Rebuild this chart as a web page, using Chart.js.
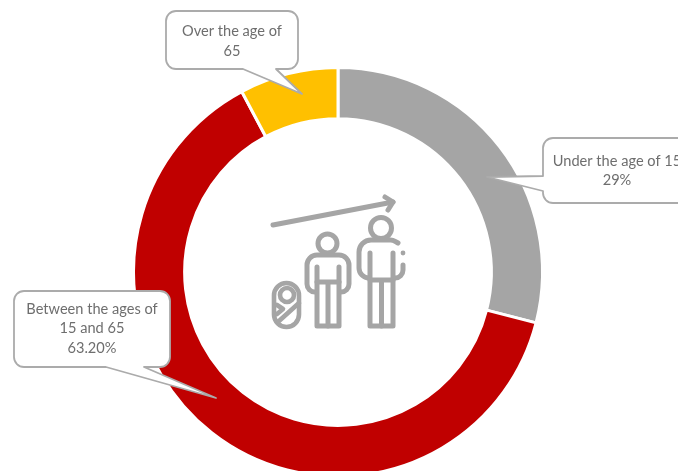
<!DOCTYPE html>
<html>
<head>
<meta charset="utf-8">
<script src="https://cdn.jsdelivr.net/npm/chart.js@4/dist/chart.umd.min.js"></script>
<style>
  html, body { margin: 0; padding: 0; background: #fff; overflow: hidden; width: 678px; height: 471px; }
  #wrap { position: relative; width: 678px; height: 480px; }
</style>
</head>
<body>
<div id="wrap"><canvas id="chart" width="678" height="480"></canvas></div>
<script>
// Population share by age group
const categories = ['Under the age of 15', 'Between the ages of 15 and 65', 'Over the age of 65'];
const shares = [29, 63.2, 7.8];
const sliceColors = ['#A5A5A5', '#C00000', '#FFC000'];

const underLines = ['Under the age of 15', '29%'];
const middleLines = ['Between the ages of', '15 and 65', '63.20%'];
const overLines = ['Over the age of', '65'];

const FONT = '14.6px "Lato", "Open Sans", sans-serif';
const TEXT = '#6E6E6E';
const OUTLINE = '#ABABAB';
const ICON = '#A5A5A5';

// Speech-bubble callouts: box, pointer base along one edge, pointer tip, text anchor
const callouts = [
  { lines: underLines, box: [543, 138, 158, 65], base: [[543, 176], [543, 191]], tip: [487, 177], textX: 617, textY: 161, lineH: 19 },
  { lines: middleLines, box: [14, 291, 156, 76], base: [[106, 367], [144, 367]], tip: [216, 398], textX: 92, textY: 309, lineH: 19.5 },
  { lines: overLines, box: [166, 11, 132, 58], base: [[243, 69], [276, 69]], tip: [302, 94], textX: 232, textY: 31, lineH: 20 }
];

function bubblePath(ctx, c) {
  const [x, y, w, h] = c.box;
  const r = 10;
  const [b0, b1] = c.base;
  ctx.beginPath();
  ctx.moveTo(x + r, y);
  ctx.lineTo(x + w - r, y);
  ctx.arcTo(x + w, y, x + w, y + r, r);
  ctx.lineTo(x + w, y + h - r);
  ctx.arcTo(x + w, y + h, x + w - r, y + h, r);
  if (b0[1] === y + h) {
    ctx.lineTo(b1[0], b1[1]);
    ctx.lineTo(c.tip[0], c.tip[1]);
    ctx.lineTo(b0[0], b0[1]);
  }
  ctx.lineTo(x + r, y + h);
  ctx.arcTo(x, y + h, x, y + h - r, r);
  if (b0[0] === x) {
    ctx.lineTo(b1[0], b1[1]);
    ctx.lineTo(c.tip[0], c.tip[1]);
    ctx.lineTo(b0[0], b0[1]);
  }
  ctx.lineTo(x, y + r);
  ctx.arcTo(x, y, x + r, y, r);
  ctx.closePath();
}

const calloutPlugin = {
  id: 'callouts',
  afterDatasetsDraw(chart) {
    const ctx = chart.ctx;
    ctx.save();
    callouts.forEach(c => {
      bubblePath(ctx, c);
      ctx.fillStyle = '#fff';
      ctx.fill();
      ctx.strokeStyle = OUTLINE;
      ctx.lineWidth = 1.8;
      ctx.lineJoin = 'round';
      ctx.stroke();
      ctx.fillStyle = TEXT;
      ctx.font = FONT;
      ctx.textAlign = 'center';
      ctx.textBaseline = 'middle';
      c.lines.forEach((t, i) => ctx.fillText(t, c.textX, c.textY + i * c.lineH));
    });
    ctx.restore();
  }
};

// Growth pictogram in the doughnut hole: arrow, swaddled baby, child, adult
const iconPlugin = {
  id: 'growthIcon',
  afterDatasetsDraw(chart) {
    const ctx = chart.ctx;
    const seg = (pts) => {
      ctx.beginPath();
      pts.forEach((p, i) => i ? ctx.lineTo(p[0], p[1]) : ctx.moveTo(p[0], p[1]));
      ctx.stroke();
    };
    const circle = (x, y, r) => { ctx.beginPath(); ctx.arc(x, y, r, 0, Math.PI * 2); ctx.stroke(); };
    ctx.save();
    ctx.strokeStyle = ICON;
    ctx.fillStyle = ICON;
    ctx.lineWidth = 5;
    ctx.lineCap = 'round';
    ctx.lineJoin = 'round';

    // arrow
    seg([[273, 225], [393, 202]]);
    seg([[385, 197], [393, 202], [388, 210]]);

    // baby
    ctx.lineWidth = 4.6;
    ctx.beginPath();
    ctx.roundRect(274, 283, 25, 44, 12.5);
    ctx.stroke();
    circle(287, 295, 7);
    seg([[299, 303], [279, 321]]);
    seg([[277, 305], [283, 309], [277, 314]]);

    // child
    ctx.lineWidth = 5;
    circle(327.5, 243.5, 9.5);
    ctx.beginPath();
    ctx.moveTo(316, 292);
    ctx.lineTo(315, 292);
    ctx.arcTo(307, 292, 307, 284, 8);
    ctx.lineTo(307, 265);
    ctx.arcTo(307, 255, 317, 255, 10);
    ctx.lineTo(339, 255);
    ctx.arcTo(349, 255, 349, 265, 10);
    ctx.lineTo(349, 284);
    ctx.arcTo(349, 292, 341, 292, 8);
    ctx.lineTo(340, 292);
    ctx.stroke();
    seg([[317, 267], [317, 326], [339, 326], [339, 267]]);
    seg([[317, 282], [339, 282]]);
    seg([[328, 284], [328, 326]]);

    // adult
    circle(381, 228, 10.5);
    ctx.beginPath();
    ctx.moveTo(398, 243);
    ctx.arcTo(393, 240, 386, 240, 9);
    ctx.lineTo(372, 240);
    ctx.arcTo(359, 240, 359, 253, 12);
    ctx.lineTo(359, 268);
    ctx.arcTo(359, 278, 369, 278, 10);
    ctx.stroke();
    ctx.beginPath();
    ctx.moveTo(403, 265);
    ctx.lineTo(403, 270);
    ctx.arcTo(403, 278, 395, 278, 8);
    ctx.stroke();
    seg([[370, 253], [370, 326], [393, 326], [393, 253]]);
    seg([[370, 280], [393, 280]]);
    seg([[381.5, 282], [381.5, 326]]);
    ctx.beginPath();
    ctx.arc(403, 253, 2.4, 0, Math.PI * 2);
    ctx.fill();
    ctx.restore();
  }
};

new Chart(document.getElementById('chart'), {
  type: 'doughnut',
  data: {
    labels: categories,
    datasets: [{
      data: shares,
      backgroundColor: sliceColors,
      borderColor: '#fff',
      borderWidth: 3
    }]
  },
  options: {
    responsive: false,
    animation: false,
    cutout: '75%',
    layout: { padding: { top: 66, bottom: 2, left: 132, right: 134 } },
    plugins: { legend: { display: false }, tooltip: { enabled: false } }
  },
  plugins: [iconPlugin, calloutPlugin]
});
</script>
</body>
</html>
